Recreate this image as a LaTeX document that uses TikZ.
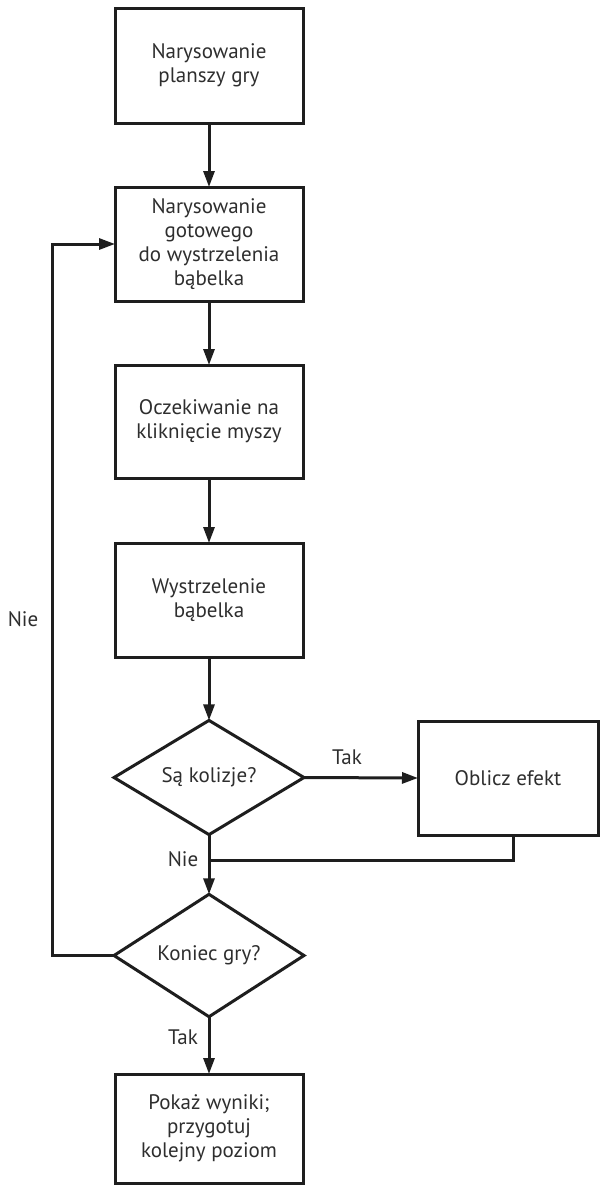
\documentclass[tikz,border=0pt]{standalone}
\usepackage{fontspec}
\setmainfont{PT Sans}
\usetikzlibrary{arrows.meta,shapes.geometric}
\definecolor{ink}{HTML}{1E1E1E}
\definecolor{txt}{HTML}{2E2E2E}
\begin{document}
\begin{tikzpicture}[x=1pt,y=-1pt,
  every node/.style={text=txt,font=\fontsize{21}{24}\selectfont},
  stepbox/.style={draw=ink,line width=3pt,minimum width=188pt,inner sep=0pt,outer sep=0pt,align=center},
  decision/.style={diamond,draw=ink,line width=3pt,minimum width=190pt,minimum height=111pt,inner sep=0pt,outer sep=0pt,align=center},
  arr/.style={draw=ink,line width=3pt,-{Triangle[length=16pt,width=11pt]}},
  ln/.style={draw=ink,line width=3pt},
  lbl/.style={inner sep=0pt}]
\useasboundingbox (0,0) rectangle (600,1186);
\node[stepbox,minimum height=115pt] (b1) at (209,65.5) {Narysowanie\\planszy gry};
\node[stepbox,minimum height=114pt] (b2) at (209,244) {Narysowanie\\gotowego\\do wystrzelenia\\bąbelka};
\node[stepbox,minimum height=113pt] (b3) at (209,421.5) {Oczekiwanie na\\kliknięcie myszy};
\node[stepbox,minimum height=114pt] (b4) at (209,600) {Wystrzelenie\\bąbelka};
\node[decision] (d1) at (209,777.5) {Są kolizje?};
\node[stepbox,minimum width=180pt,minimum height=114pt] (ob) at (508,778) {Oblicz efekt};
\node[decision] (d2) at (209,955.5) {Koniec gry?};
\node[stepbox,minimum height=109pt] (b5) at (209,1128.5) {Pokaż wyniki;\\przygotuj\\kolejny poziom};
\coordinate (merge) at (209,860);
\coordinate (L) at (52,600);
\draw[arr] (b1) -- (b2);
\draw[arr] (b2) -- (b3);
\draw[arr] (b3) -- (b4);
\draw[arr] (b4) -- (d1);
\draw[arr] (d1.east) -- (ob.west);
\draw[arr] (d1.south) -- (d2.north);
\draw[ln] ([xshift=5pt]ob.south) |- (merge);
\draw[arr] (d2.west) -| (L) |- (b2.west);
\draw[arr] (d2.south) -- (b5.north);
\node[lbl] (t1) at (347,757) {Tak};
\node[lbl] (n1) at (183,859) {Nie};
\node[lbl] (n2) at (23,619) {Nie};
\node[lbl] (t2) at (183,1037) {Tak};
\end{tikzpicture}
\end{document}
